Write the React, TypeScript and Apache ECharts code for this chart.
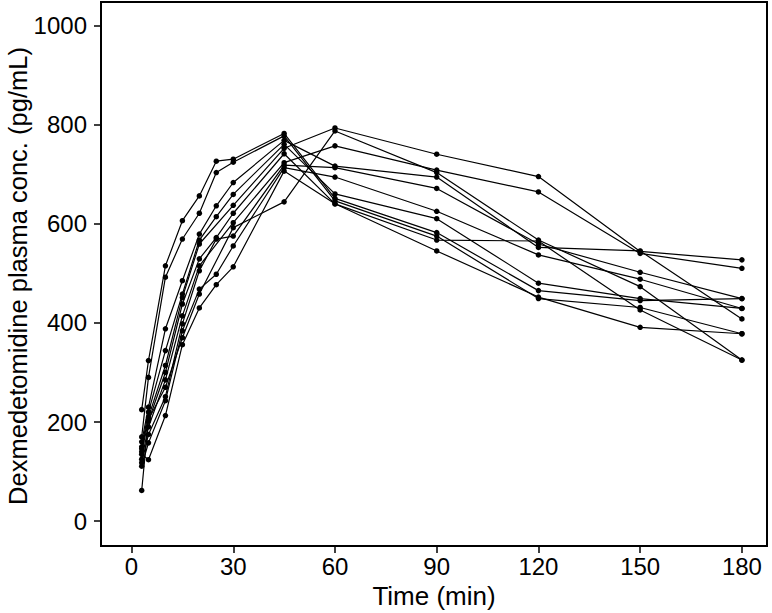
import React, { useEffect, useRef } from "react";
import * as echarts from "echarts";

const times = [3, 5, 10, 15, 20, 25, 30, 45, 60, 90, 120, 150, 180];

const subject01 = [225, 324, 515, 606, 656, 726, 730, 782, 651, 582, 465, 445, 449];
const subject02 = [170, 290, 492, 569, 621, 703, 724, 777, 646, 575, 449, 431, 378];
const subject03 = [160, 230, 388, 485, 579, 636, 683, 768, 716, 694, 552, 545, 408];
const subject04 = [150, 220, 344, 458, 567, 614, 659, 760, 660, 610, 480, 449, 429];
const subject05 = [146, 210, 314, 451, 559, null, 637, 752, 793, 740, 695, 544, 527];
const subject06 = [140, 202, 300, 438, 529, 572, 621, 741, 640, 567, 565, 426, 325];
const subject07 = [125, 190, 285, 414, 515, null, 602, 723, 757, 708, 664, 540, 510];
const subject08 = [118, 175, 251, 398, 505, 569, 575, 718, 713, 671, 559, 502, 449];
const subject09 = [111, 158, 243, 384, 468, 498, 555, 713, 694, 625, 537, 488, 429];
const subject10 = [135, 124, 213, 356, 430, 477, 513, 706, 640, 545, 452, 391, 378];
const subject11 = [62, 205, 270, 370, 458, null, 592, 644, 787, 703, 567, 473, 325];

const subjects = [
  subject01, subject02, subject03, subject04, subject05, subject06,
  subject07, subject08, subject09, subject10, subject11,
];

const xTicks = [0, 30, 60, 90, 120, 150, 180];
const yTicks = [0, 200, 400, 600, 800, 1000];

const xTitle = "Time (min)";
const yTitle = "Dexmedetomidine plasma conc. (pg/mL)";

const FONT = "'Liberation Sans', Arial, Helvetica, sans-serif";

export default function App() {
  const ref = useRef<HTMLDivElement>(null);
  useEffect(() => {
    if (!ref.current) return;
    const chart = echarts.init(ref.current, undefined, { renderer: "svg" });
    const series = subjects.map((vals, i) => ({
      type: "line",
      name: "S" + (i + 1),
      data: times
        .map((t, j) => (vals[j] == null ? null : [t, vals[j]]))
        .filter((d) => d !== null),
      symbol: "circle",
      symbolSize: 5.5,
      showSymbol: true,
      itemStyle: { color: "#000" },
      lineStyle: { color: "#000", width: 1.2 },
      silent: true,
    }));
    chart.setOption({
      animation: false,
      backgroundColor: "#fff",
      grid: {
        left: 101,
        top: 2,
        right: 5,
        bottom: 67,
        show: true,
        borderColor: "#000",
        borderWidth: 2,
        backgroundColor: "transparent",
        containLabel: false,
        outerBoundsMode: "none",
      },
      graphic: [
        {
          type: "text",
          x: 18,
          y: 276,
          rotation: Math.PI / 2,
          style: {
            text: yTitle,
            fill: "#000",
            fontSize: 25.5,
            fontFamily: FONT,
            align: "center",
            verticalAlign: "middle",
          },
        },
      ],
      xAxis: {
        type: "value",
        min: -9,
        max: 187.4,
        splitLine: { show: false },
        axisLine: { show: true, onZero: false, lineStyle: { color: "#000", width: 2 } },
        axisTick: {
          show: true,
          customValues: xTicks,
          length: 7,
          lineStyle: { color: "#000", width: 1.5 },
        },
        axisLabel: {
          customValues: xTicks,
          color: "#000",
          fontSize: 24,
          fontFamily: FONT,
          margin: 8,
          formatter: (v: number) => String(v),
        },
        name: xTitle,
        nameLocation: "middle",
        nameGap: 37,
        nameTextStyle: { color: "#000", fontSize: 26, fontFamily: FONT },
      },
      yAxis: {
        type: "value",
        min: -50,
        max: 1047,
        splitLine: { show: false },
        axisLine: { show: true, onZero: false, lineStyle: { color: "#000", width: 2 } },
        axisTick: {
          show: true,
          customValues: yTicks,
          length: 7,
          lineStyle: { color: "#000", width: 1.5 },
        },
        axisLabel: {
          customValues: yTicks,
          color: "#000",
          fontSize: 24,
          fontFamily: FONT,
          margin: 14,
          formatter: (v: number) => String(v),
        },
      },
      series,
    });
    return () => chart.dispose();
  }, []);
  return (
    <div
      ref={ref}
      style={{ position: "absolute", left: 0, top: 0, width: 772, height: 613 }}
    />
  );
}
